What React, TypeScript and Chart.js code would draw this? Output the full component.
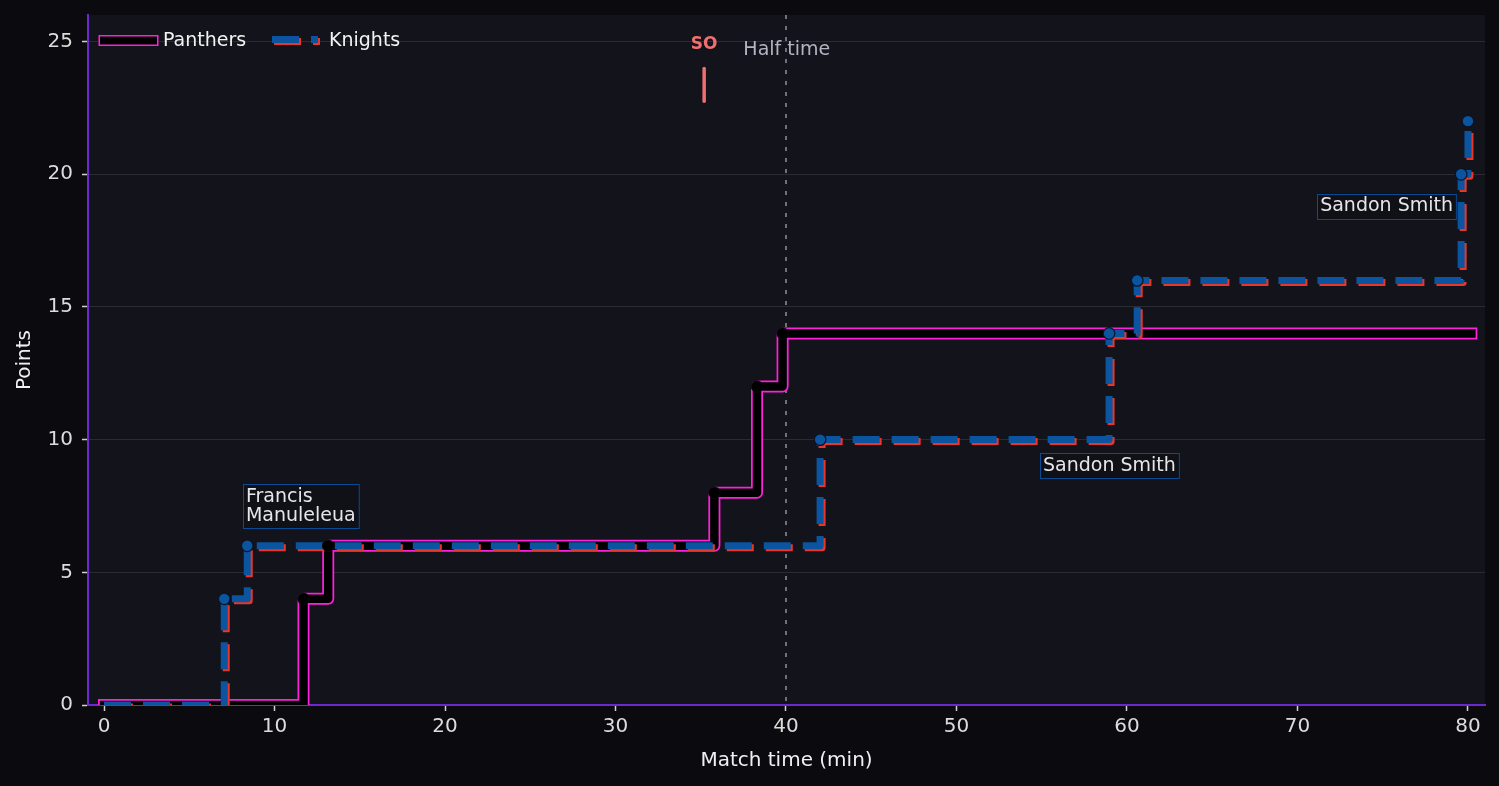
import { useEffect, useRef } from 'react'
import Chart from 'chart.js/auto'

// Score progression — step lines (Panthers vs Knights), half time marker, sin-bin marker, try-scorer notes

const PANTHERS_TIME  = [0, 11.7, 13.15, 35.8, 38.3, 39.8, 80.2]
const PANTHERS_SCORE = [0, 4, 6, 8, 12, 14, 14]
const PANTHERS_MARKS = [1, 2, 3, 4, 5]          // indices with a score marker

const KNIGHTS_TIME  = [0, 7.05, 8.4, 42.0, 58.95, 60.6, 79.6, 80.0]
const KNIGHTS_SCORE = [0, 4, 6, 10, 14, 16, 20, 22]
const KNIGHTS_MARKS = [1, 2, 3, 4, 5, 6, 7]

const X_TICKS = [0, 10, 20, 30, 40, 50, 60, 70, 80]
const Y_TICKS = [0, 5, 10, 15, 20, 25]

const HALF_TIME = 40
const HALF_LABEL = { x: 37.5, y: 24.68, text: 'Half time' }
const SIN_BIN = { x: 35.2, from: 22.75, to: 23.98, labelY: 24.9, text: 'SO' }

const NOTE_TEXT   = [['Francis', 'Manuleleua'], ['Sandon Smith'], ['Sandon Smith']]
const NOTE_X      = [8.15, 58.97, 79.3]
const NOTE_Y      = [6.66, 9.49, 18.8]
const NOTE_ANCHOR = ['left-bottom', 'center-top', 'right-middle']

const FONT = 'DejaVu Sans'
const MAGENTA = '#ff20dc'
const BLUE    = '#0a54a0'
const RED     = '#e8362a'
const PURPLE  = '#6a2ad0'

const pts = (t: number[], s: number[]) => t.map((x, i) => ({ x, y: s[i] }))
const marks = (t: number[], s: number[], idx: number[]) => idx.map(i => ({ x: t[i], y: s[i] }))

export default function App() {
  const canvasRef = useRef<HTMLCanvasElement>(null)
  const chartRef  = useRef<Chart | null>(null)

  useEffect(() => {
    if (!canvasRef.current) return
    chartRef.current?.destroy()
    Chart.defaults.font.family = FONT

    // 플롯 배경
    const plotBg = {
      id: 'plotBg',
      beforeDraw(c: any) {
        const { ctx, chartArea: a } = c
        ctx.save(); ctx.fillStyle = '#13131b'; ctx.fillRect(a.left, a.top, a.right - a.left, a.bottom - a.top); ctx.restore()
      },
    }

    // Knights 붉은 그림자
    const knightsShadow = {
      id: 'knightsShadow',
      beforeDatasetDraw(c: any, args: any) {
        if (c.data.datasets[args.index].label !== 'Knights') return
        const r = c.currentDevicePixelRatio || 1
        c.ctx.save()
        c.ctx.shadowColor = RED; c.ctx.shadowOffsetX = 2 * r; c.ctx.shadowOffsetY = 2 * r; c.ctx.shadowBlur = 0
      },
      afterDatasetDraw(c: any, args: any) {
        if (c.data.datasets[args.index].label !== 'Knights') return
        c.ctx.restore()
      },
    }

    const overlay = {
      id: 'overlay',
      beforeDatasetsDraw(c: any) {
        const { ctx, chartArea: a, scales: { x } } = c
        const hx = x.getPixelForValue(HALF_TIME)
        ctx.save()
        ctx.strokeStyle = '#7c7c86'; ctx.lineWidth = 1.8; ctx.setLineDash([4, 7])
        ctx.beginPath(); ctx.moveTo(hx, a.top); ctx.lineTo(hx, a.bottom); ctx.stroke()
        ctx.restore()
      },
      afterDatasetsDraw(c: any) {
        const { ctx, scales: { x, y } } = c
        const r = c.currentDevicePixelRatio || 1
        ctx.save()
        // half time label
        ctx.font = `19px ${FONT}`; ctx.fillStyle = '#b4b4c0'; ctx.textAlign = 'left'; ctx.textBaseline = 'middle'
        ctx.fillText(HALF_LABEL.text, x.getPixelForValue(HALF_LABEL.x), y.getPixelForValue(HALF_LABEL.y))
        // sin bin
        const sx = x.getPixelForValue(SIN_BIN.x)
        ctx.strokeStyle = '#f07070'; ctx.lineWidth = 3.5; ctx.lineCap = 'round'
        ctx.beginPath(); ctx.moveTo(sx, y.getPixelForValue(SIN_BIN.from)); ctx.lineTo(sx, y.getPixelForValue(SIN_BIN.to)); ctx.stroke()
        ctx.font = `bold 17px ${FONT}`; ctx.fillStyle = '#f07070'; ctx.textAlign = 'center'
        ctx.fillText(SIN_BIN.text, sx, y.getPixelForValue(SIN_BIN.labelY))

        // notes
        ctx.font = `19px ${FONT}`; ctx.textAlign = 'left'; ctx.textBaseline = 'middle'
        NOTE_TEXT.forEach((lines, i) => {
          const px = x.getPixelForValue(NOTE_X[i]), py = y.getPixelForValue(NOTE_Y[i])
          const tw = Math.max(...lines.map(l => ctx.measureText(l).width))
          const w = tw + 6, h = lines.length * 19 + 6
          const [hA, vA] = NOTE_ANCHOR[i].split('-')
          const left = hA === 'left' ? px : hA === 'right' ? px - w : px - w / 2
          const top  = vA === 'top' ? py : vA === 'bottom' ? py - h : py - h / 2
          ctx.fillStyle = '#101017'; ctx.fillRect(left, top, w, h)
          ctx.strokeStyle = '#0b4a94'; ctx.lineWidth = 1; ctx.strokeRect(Math.round(left) + 0.5, Math.round(top) + 0.5, w, h)
          ctx.fillStyle = '#e6e6ea'
          lines.forEach((l, j) => ctx.fillText(l, left + 3, top + 3 + 9.5 + j * 19))
        })

        // legend
        ctx.lineCap = 'square'
        ctx.strokeStyle = MAGENTA; ctx.lineWidth = 11
        ctx.beginPath(); ctx.moveTo(104, 40.5); ctx.lineTo(153, 40.5); ctx.stroke()
        ctx.strokeStyle = '#000'; ctx.lineWidth = 8
        ctx.beginPath(); ctx.moveTo(104, 40.5); ctx.lineTo(153, 40.5); ctx.stroke()
        ctx.save()
        ctx.lineCap = 'butt'; ctx.setLineDash([27, 12])
        ctx.shadowColor = RED; ctx.shadowOffsetX = 2 * r; ctx.shadowOffsetY = 2 * r; ctx.shadowBlur = 0
        ctx.strokeStyle = BLUE; ctx.lineWidth = 7
        ctx.beginPath(); ctx.moveTo(272, 39.5); ctx.lineTo(318, 39.5); ctx.stroke()
        ctx.restore()
        ctx.fillStyle = '#f2f2f2'; ctx.font = `19px ${FONT}`
        ctx.fillText('Panthers', 163, 41)
        ctx.fillText('Knights', 329, 41)
        ctx.restore()
      },
    }

    chartRef.current = new Chart(canvasRef.current, {
      type: 'line',
      data: {
        datasets: [
          {
            label: 'Panthers outline', data: pts(PANTHERS_TIME, PANTHERS_SCORE) as any,
            borderColor: MAGENTA, borderWidth: 12, stepped: 'before', pointRadius: 0,
            borderCapStyle: 'square', borderJoinStyle: 'round', order: 6,
          },
          {
            label: 'Panthers', data: pts(PANTHERS_TIME, PANTHERS_SCORE) as any,
            borderColor: '#000', borderWidth: 8.5, stepped: 'before', pointRadius: 0,
            borderCapStyle: 'square', borderJoinStyle: 'round', order: 5,
          },
          {
            label: 'Knights', data: pts(KNIGHTS_TIME, KNIGHTS_SCORE) as any,
            borderColor: BLUE, borderWidth: 7, stepped: 'before', pointRadius: 0, borderDash: [27, 12],
            borderCapStyle: 'butt', borderJoinStyle: 'round', order: 4,
          },
          {
            label: 'Panthers marks', data: marks(PANTHERS_TIME, PANTHERS_SCORE, PANTHERS_MARKS) as any,
            showLine: false, pointRadius: 5.8, pointBackgroundColor: '#000', pointBorderColor: '#0a0a10', pointBorderWidth: 1, order: 2,
          },
          {
            label: 'Knights marks', data: marks(KNIGHTS_TIME, KNIGHTS_SCORE, KNIGHTS_MARKS) as any,
            showLine: false, pointRadius: 5.8, pointBackgroundColor: BLUE, pointBorderColor: '#0b1424', pointBorderWidth: 1.2, order: 1,
          },
        ] as any,
      },
      options: {
        responsive: true, maintainAspectRatio: false, animation: false, events: [],
        layout: { padding: { left: 0, right: 14, top: 15, bottom: 0 } },
        plugins: { legend: { display: false }, tooltip: { enabled: false } },
        scales: {
          x: {
            type: 'linear', min: -0.94, max: 81.0,
            afterBuildTicks: (s: any) => { s.ticks = X_TICKS.map(v => ({ value: v })) },
            afterFit: (s: any) => { s.height = 81; s.paddingLeft = 0; s.paddingRight = 0 },
            grid: { drawOnChartArea: false, tickColor: '#d0d0d0', tickLength: 6, tickWidth: 1.5 },
            border: { display: true, color: PURPLE, width: 2 },
            ticks: { color: '#dcdcdc', font: { size: 20 }, padding: 4, maxRotation: 0 },
            title: { display: true, text: 'Match time (min)', color: '#f0f0f0', font: { size: 20 }, padding: { top: 0, bottom: 13 } },
          },
          y: {
            type: 'linear', min: 0, max: 26,
            afterBuildTicks: (s: any) => { s.ticks = Y_TICKS.map(v => ({ value: v })) },
            afterFit: (s: any) => { s.width = 88; s.paddingTop = 0; s.paddingBottom = 0 },
            grid: { color: '#2b2b32', lineWidth: 1, tickColor: '#d0d0d0', tickLength: 6, tickWidth: 1.5 },
            border: { display: true, color: PURPLE, width: 2 },
            ticks: { color: '#dcdcdc', font: { size: 20 }, padding: 9 },
            title: { display: true, text: 'Points', color: '#f0f0f0', font: { size: 20 }, padding: { top: 13, bottom: 0 } },
          },
        },
      },
      plugins: [plotBg, knightsShadow, overlay],
    })

    return () => { chartRef.current?.destroy(); chartRef.current = null }
  }, [])

  return (
    <div style={{ position: 'absolute', left: 0, top: 0, width: 1499, height: 786, background: '#0b0b0f' }}>
      <canvas ref={canvasRef} />
    </div>
  )
}
